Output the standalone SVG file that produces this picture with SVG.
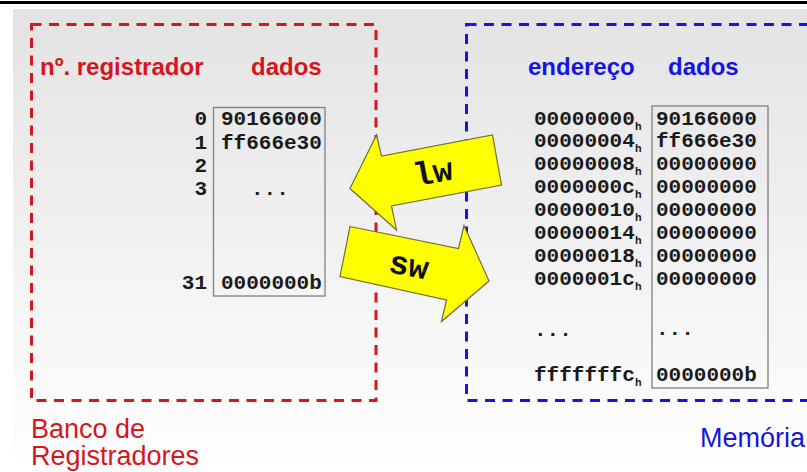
<svg xmlns="http://www.w3.org/2000/svg" width="807" height="472" viewBox="0 0 807 472">
  <defs>
    <linearGradient id="bg" x1="0" y1="0" x2="0" y2="1">
      <stop offset="0" stop-color="#e3e3e3"/>
      <stop offset="1" stop-color="#ffffff"/>
    </linearGradient>
    <style>
      .title { font-family: "Liberation Sans", Arial, sans-serif; font-weight: bold; font-size: 24px; }
      .caption { font-family: "Liberation Sans", Arial, sans-serif; font-size: 27px; }
      .red { fill: #d4161e; }
      .blue { fill: #1515e0; }
      .mono { font-family: "Liberation Mono", "Courier New", monospace; font-weight: bold; font-size: 21px; fill: #1a1a1a; }
      .sub { font-family: "Liberation Mono", "Courier New", monospace; font-weight: bold; font-size: 11px; fill: #1a1a1a; }
      .op { font-family: "Liberation Mono", "Courier New", monospace; font-weight: bold; font-size: 33px; fill: #111; }
      .frame-red { fill: none; stroke: #d4161e; stroke-width: 3; stroke-dasharray: 10 7.5; }
      .frame-blue { fill: none; stroke: #1515e0; stroke-width: 3; stroke-dasharray: 10 7.5; }
      .cells { fill: none; stroke: #808080; stroke-width: 1.3; }
      .arrow { fill: #ffff00; stroke: #6e6e3a; stroke-width: 1.2; stroke-linejoin: miter; }
    </style>
  </defs>

  <!-- page background -->
  <rect x="0" y="0" width="807" height="472" fill="#ffffff"/>
  <rect x="13" y="9" width="794" height="463" fill="url(#bg)"/>
  <rect x="0" y="1" width="807" height="3" fill="#000000"/>

  <!-- register file -->
  <g id="register-file">
    <rect class="frame-red" x="31.5" y="24.5" width="344.5" height="376"/>
    <text class="title red" x="40" y="75">nº. registrador</text>
    <text class="title red" x="251" y="75">dados</text>
    <rect class="cells" x="213.5" y="107.5" width="111.5" height="188.5"/>
    <g class="mono" text-anchor="end">
      <text x="207" y="125">0</text>
      <text x="207" y="148.5">1</text>
      <text x="207" y="172">2</text>
      <text x="207" y="195">3</text>
      <text x="207" y="289">31</text>
    </g>
    <g class="mono">
      <text x="221" y="125">90166000</text>
      <text x="221" y="148.5">ff666e30</text>
      <text x="251" y="195">...</text>
      <text x="221" y="289">0000000b</text>
    </g>
    <text class="caption red" x="31" y="438">Banco de</text>
    <text class="caption red" x="31" y="465">Registradores</text>
  </g>

  <!-- memory -->
  <g id="memory">
    <rect class="frame-blue" x="466.5" y="24.5" width="360" height="376"/>
    <text class="title blue" x="528" y="75">endereço</text>
    <text class="title blue" x="668" y="75">dados</text>
    <rect class="cells" x="652" y="106" width="116" height="282"/>
    <g class="mono">
      <text x="534" y="124.5">00000000</text>
      <text x="534" y="147.4">00000004</text>
      <text x="534" y="170.3">00000008</text>
      <text x="534" y="193.2">0000000c</text>
      <text x="534" y="216.1">00000010</text>
      <text x="534" y="239">00000014</text>
      <text x="534" y="261.9">00000018</text>
      <text x="534" y="284.8">0000001c</text>
      <text x="534" y="336">...</text>
      <text x="534" y="381">fffffffc</text>
    </g>
    <g class="sub">
      <text x="635" y="129.5">h</text>
      <text x="635" y="152.4">h</text>
      <text x="635" y="175.3">h</text>
      <text x="635" y="198.2">h</text>
      <text x="635" y="221.1">h</text>
      <text x="635" y="244">h</text>
      <text x="635" y="266.9">h</text>
      <text x="635" y="289.8">h</text>
      <text x="635" y="386">h</text>
    </g>
    <g class="mono">
      <text x="656" y="124.5">90166000</text>
      <text x="656" y="147.4">ff666e30</text>
      <text x="656" y="170.3">00000000</text>
      <text x="656" y="193.2">00000000</text>
      <text x="656" y="216.1">00000000</text>
      <text x="656" y="239">00000000</text>
      <text x="656" y="261.9">00000000</text>
      <text x="656" y="284.8">00000000</text>
      <text x="656" y="335">...</text>
      <text x="656" y="381">0000000b</text>
    </g>
    <text class="caption blue" x="700" y="447">Memória</text>
  </g>

  <!-- load / store transfers between the two units -->
  <g id="connectors">
    <g id="lw">
      <polygon class="arrow" points="350,188.5 376.5,135 381.5,156 492.5,135 501.5,185 391.5,206 396.5,230"/>
      <text class="op" x="433" y="183" text-anchor="middle" transform="rotate(-10.8 433 172)">lw</text>
    </g>
    <g id="sw">
      <polygon class="arrow" points="350,226.5 458.5,248.5 464,225.5 489,281 441.5,321.5 446.5,300 340,276.5"/>
      <text class="op" x="409" y="276" text-anchor="middle" transform="rotate(11.2 409 265)">sw</text>
    </g>
  </g>
</svg>
